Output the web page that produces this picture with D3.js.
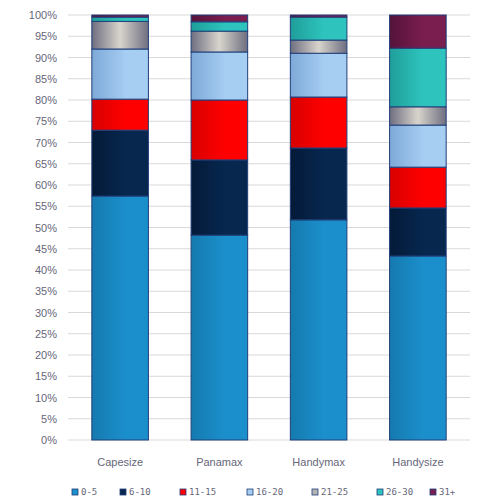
<!DOCTYPE html>
<html>
<head>
<meta charset="utf-8">
<script src="https://cdn.jsdelivr.net/npm/d3@7"></script>
<style>
body { margin: 0; background: #fff; }
svg { display: block; font-family: "Open Sans", "DejaVu Sans", sans-serif; }
</style>
</head>
<body>
<script>
// fleet age profile, share of ships per age bracket
var categories = ['Capesize', 'Panamax', 'Handymax', 'Handysize'];
var ageGroups = ['0-5', '6-10', '11-15', '16-20', '21-25', '26-30', '31+'];
var capesize  = [57.4, 15.5, 7.3, 11.8, 6.5, 1.0, 0.5];
var panamax   = [48.2, 17.7, 14.1, 11.3, 4.9, 2.2, 1.6];
var handymax  = [51.8, 16.9, 12.0, 10.3, 3.1, 5.4, 0.5];
var handysize = [43.3, 11.3, 9.6, 9.9, 4.3, 13.8, 7.8];
var yTicks = d3.range(0, 101, 5);

var colors = ['#1b8fcc', '#07274f', '#ff0000', '#a6cdf2', '#b4b4b4', '#2ec4bd', '#7a1d4f'];
var darkEdge = ['#157aae', '#041a38', '#d80000', '#7ea9d8', '#5a5a6e', '#1f9e9a', '#55133a'];

var width = 485, height = 500;
var margin = {top: 15, right: 15, bottom: 60, left: 68};

var svg = d3.select('body').append('svg')
	.attr('width', width)
	.attr('height', height);

var defs = svg.append('defs');
ageGroups.forEach(function (g, i) {
	var grad = defs.append('linearGradient')
		.attr('id', 'grad' + i)
		.attr('x1', '0%').attr('x2', '100%')
		.attr('y1', '0%').attr('y2', '0%');
	if (i == 4) {
		// the silver band has a shiny middle
		grad.append('stop').attr('offset', '0%').attr('stop-color', '#6e6e80');
		grad.append('stop').attr('offset', '50%').attr('stop-color', '#d8d4cc');
		grad.append('stop').attr('offset', '100%').attr('stop-color', '#6e6e80');
	} else {
		grad.append('stop').attr('offset', '0%').attr('stop-color', darkEdge[i]);
		grad.append('stop').attr('offset', '60%').attr('stop-color', colors[i]);
		grad.append('stop').attr('offset', '100%').attr('stop-color', colors[i]);
	}
});

var x = d3.scaleBand()
	.domain(categories)
	.range([margin.left + 2, width - margin.right - 2])
	.paddingInner(0.43)
	.paddingOuter(0.22);

var y = d3.scaleLinear()
	.domain([0, 100])
	.range([height - margin.bottom, margin.top]);

// gridlines
svg.append('g')
	.selectAll('line')
	.data(yTicks)
	.join('line')
	.attr('x1', margin.left)
	.attr('x2', width - margin.right)
	.attr('y1', function (d) { return y(d); })
	.attr('y2', function (d) { return y(d); })
	.attr('stroke', '#d9d9d9')
	.attr('stroke-width', 1);

var yAxis = svg.append('g')
	.attr('transform', 'translate(' + (margin.left - 8) + ',0)')
	.call(d3.axisLeft(y).tickValues(yTicks).tickSize(0).tickFormat(function (d) { return d + '%'; }));
yAxis.select('.domain').remove();
yAxis.selectAll('text')
	.attr('fill', '#66667a')
	.style('font-size', '11px');

var rows = [capesize, panamax, handymax, handysize];
var table = categories.map(function (c, i) {
	var row = {category: c};
	ageGroups.forEach(function (g, j) { row[g] = rows[i][j]; });
	return row;
});
var stacked = d3.stack().keys(ageGroups)(table);

svg.append('g')
	.selectAll('g')
	.data(stacked)
	.join('g')
	.attr('fill', function (d, i) { return 'url(#grad' + i + ')'; })
	.selectAll('rect')
	.data(function (d) { return d; })
	.join('rect')
	.attr('x', function (d) { return x(d.data.category); })
	.attr('width', x.bandwidth())
	.attr('y', function (d) { return y(Math.min(d[1], 100)); })
	.attr('height', function (d) { return y(d[0]) - y(Math.min(d[1], 100)); })
	.attr('stroke', '#1f3f7a')
	.attr('stroke-width', 1);

var xAxis = svg.append('g')
	.attr('transform', 'translate(0,' + (height - margin.bottom + 13) + ')')
	.call(d3.axisBottom(x).tickSize(0));
xAxis.select('.domain').remove();
xAxis.selectAll('text')
	.attr('fill', '#66667a')
	.style('font-size', '11px')
	.attr('dy', '0.9em');

// legend
var legendX = [72, 120, 180, 247, 312, 377, 430];
var legend = svg.append('g')
	.selectAll('g')
	.data(ageGroups)
	.join('g')
	.attr('transform', function (d, i) { return 'translate(' + legendX[i] + ',' + 489 + ')'; });
legend.append('rect')
	.attr('width', 6)
	.attr('height', 6)
	.attr('fill', function (d, i) { return colors[i]; })
	.attr('stroke', '#1f3f7a')
	.attr('stroke-width', 0.8);
legend.append('text')
	.attr('x', 9)
	.attr('y', 6)
	.attr('fill', '#66667a')
	.style('font-family', '"DejaVu Sans Mono", monospace')
	.style('font-size', '9px')
	.text(function (d) { return d; });
</script>
</body>
</html>
